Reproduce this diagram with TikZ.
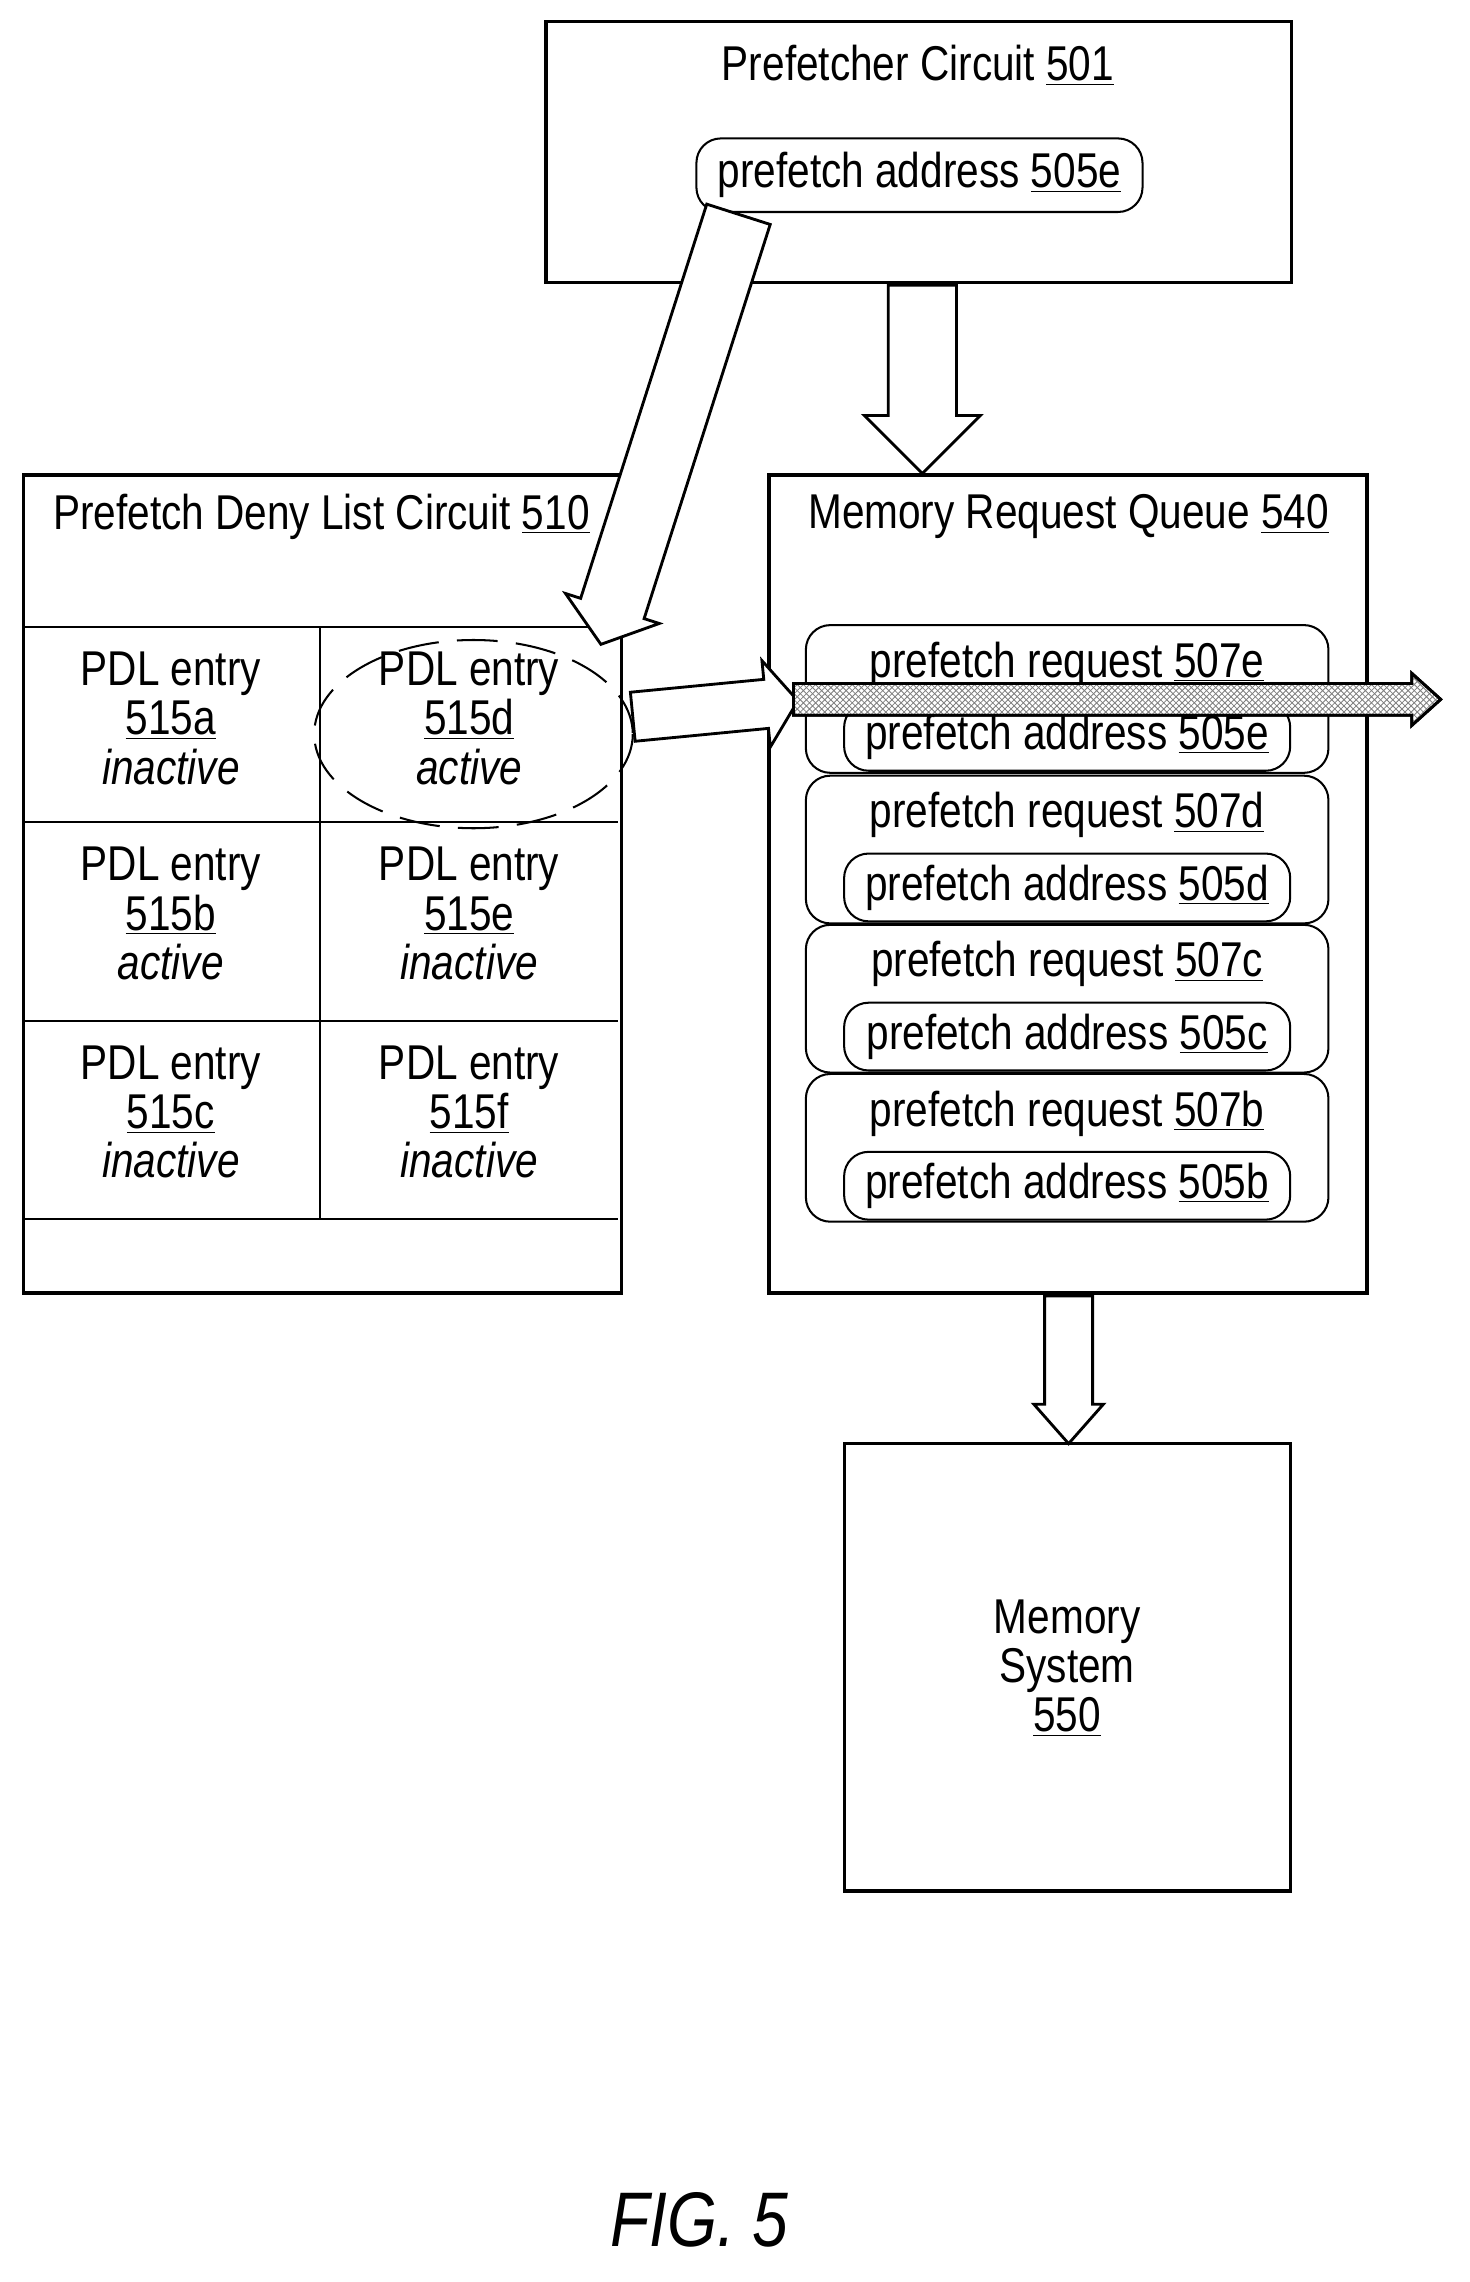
\documentclass[tikz,border=0pt]{standalone}
\usepackage{fontspec}
\setmainfont{Liberation Sans}[FakeStretch=0.83]
\usetikzlibrary{calc,patterns}

\tikzset{
    box/.style={draw, line width=1.6pt},
    txt/.style={font=\fontsize{24}{30}\selectfont, inner sep=0pt},
    rbox/.style={draw, line width=1pt, rounded corners=12pt},
    barrow/.style={draw, line width=1.4pt, fill=white},
}
% block arrow: from, to, shaft width, head width, head length
\newcommand{\blockarrow}[6][]{%
  \path[barrow,#1] ($(#2)!#4/2!90:(#3)$)
    -- ($($(#3)!#6!(#2)$)!#4/2!90:(#3)$)
    -- ($($(#3)!#6!(#2)$)!#5/2!90:(#3)$)
    -- (#3)
    -- ($($(#3)!#6!(#2)$)!#5/2!-90:(#3)$)
    -- ($($(#3)!#6!(#2)$)!#4/2!-90:(#3)$)
    -- ($(#2)!#4/2!-90:(#3)$) -- cycle;}

\begin{document}
\begin{tikzpicture}[x=0.025cm, y=-0.025cm]
\useasboundingbox (0,0) rectangle (1015,1576);

% prefetcher
\draw[box] (377,15) rectangle (892,195);
\node[txt] (pfc) at (634,45) {Prefetcher Circuit \underline{501}};
\node[rbox, txt, minimum width=7.7cm, minimum height=1.27cm] (pfa) at (635,121) {prefetch address \underline{505e}};

% deny list
\draw[box] (16,328) rectangle (429,893);
\node[txt] (pdl) at (222,357) {Prefetch Deny List Circuit \underline{510}};
\draw[line width=1pt] (16,433) -- (427,433) (16,568) -- (427,568)
    (16,705) -- (427,705) (16,842) -- (427,842) (221,433) -- (221,842);
\foreach \x/\y/\id/\st in {118/460/515a/inactive, 324/460/515d/active,
    118/595/515b/active, 324/595/515e/inactive,
    118/732/515c/inactive, 324/732/515f/inactive}
  \node[txt, align=center, font=\fontsize{24}{24.2}\selectfont] (e\id) at (\x,\y+36)
    {PDL entry\\\underline{\id}\\\textit{\st}};
\draw[line width=1pt, dash pattern=on 20pt off 9pt] (327,507) ellipse [x radius=110, y radius=65];

% request queue
\draw[box] (531,328) rectangle (944,893);
\node[txt] (mrq) at (738,357) {Memory Request Queue \underline{540}};
\foreach \id/\y in {e/431, d/535, c/638, b/741} {
  \node[rbox, minimum width=9.02cm, minimum height=2.55cm, anchor=north] (req\id) at (737,\y) {};
  \node[txt] (rt\id) at (737,\y+28) {prefetch request \underline{507\id}};
  \node[rbox, txt, minimum width=7.7cm, minimum height=1.17cm, anchor=south] (ra\id) at (737,\y+102) {prefetch address \underline{505\id}};
}

% memory
\draw[box] (583,997) rectangle (891,1306);
\node[txt, align=center, font=\fontsize{24}{24.2}\selectfont] (mem) at (737,1152) {Memory\\System\\\underline{550}};

% arrows
\coordinate (a1) at (510,148);
\coordinate (a2) at (415,445);
\blockarrow{a1}{a2}{1.15cm}{1.7cm}{0.65cm}
\coordinate (d1) at (637,197);
\coordinate (d2) at (637,327);
\blockarrow{d1}{d2}{1.18cm}{2.0cm}{1.0cm}
\coordinate (m1) at (738,895);
\coordinate (m2) at (738,997);
\blockarrow{m1}{m2}{0.83cm}{1.2cm}{0.68cm}
\coordinate (r1) at (437,495);
\coordinate (r2) at (551,484);
\blockarrow{r1}{r2}{0.85cm}{1.5cm}{0.55cm}
\coordinate (h1) at (548,483);
\coordinate (h2) at (995,483);
\blockarrow[fill=white]{h1}{h2}{0.55cm}{0.9cm}{0.5cm}
\blockarrow[pattern=crosshatch, pattern color=gray]{h1}{h2}{0.55cm}{0.9cm}{0.5cm}

\node[txt, font=\fontsize{38}{40}\selectfont\itshape] (fig) at (483,1533) {FIG. 5};
\end{tikzpicture}
\end{document}
